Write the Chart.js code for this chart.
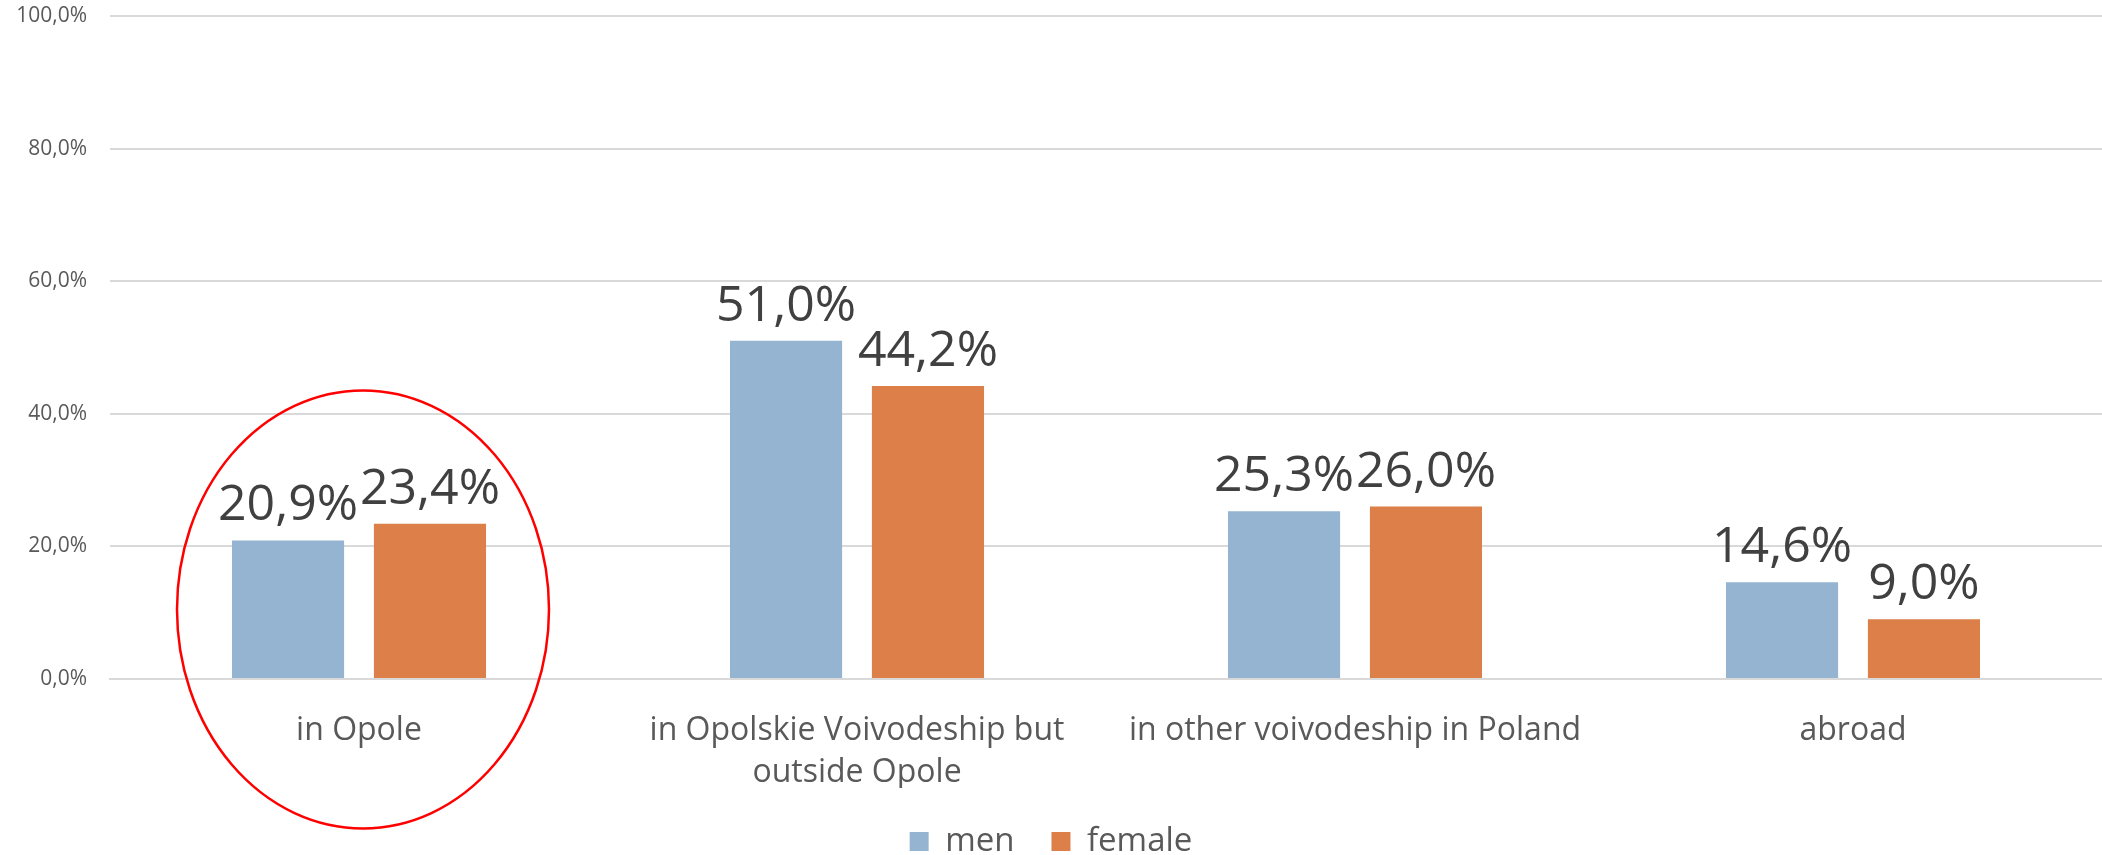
<!DOCTYPE html>
<html>
<head>
<meta charset="utf-8">
<script src="https://cdn.jsdelivr.net/npm/chart.js"></script>
<style>
  body { margin: 0; background: #fff; }
  #wrap { width: 2102px; height: 855px; }
</style>
</head>
<body>
<div id="wrap"><canvas id="barChart"></canvas></div>
<script>
// data
var categories = ["in Opole", ["in Opolskie Voivodeship but", "outside Opole"], "in other voivodeship in Poland", "abroad"];
var men = [20.9, 51.0, 25.3, 14.6];
var female = [23.4, 44.2, 26.0, 9.0];
var seriesNames = ["men", "female"];
var yTicks = [0, 20, 40, 60, 80, 100];

function pct(v) {
  return v.toFixed(1).replace('.', ',') + '%';
}

// value labels above bars
var valueLabels = {
  id: 'valueLabels',
  afterDatasetsDraw: function(chart) {
    var ctx = chart.ctx;
    ctx.save();
    ctx.font = '50px "Open Sans"';
    ctx.fillStyle = '#404040';
    ctx.textAlign = 'center';
    ctx.textBaseline = 'alphabetic';
    chart.data.datasets.forEach(function(ds, i) {
      chart.getDatasetMeta(i).data.forEach(function(bar, j) {
        ctx.fillText(pct(ds.data[j]), bar.x, bar.y - 20);
      });
    });
    ctx.restore();
  }
};

// red ellipse round the first group
var circleFirst = {
  id: 'circleFirst',
  afterDraw: function(chart) {
    var ctx = chart.ctx;
    var x = chart.scales.x.getPixelForValue(0) + 4;
    var y = chart.scales.y.getPixelForValue(10.5);
    ctx.save();
    ctx.strokeStyle = '#ff0000';
    ctx.lineWidth = 2.5;
    ctx.beginPath();
    ctx.ellipse(x, y, 186, 219, 0, 0, Math.PI * 2);
    ctx.stroke();
    ctx.restore();
  }
};

var myChart = new Chart(document.getElementById('barChart'), {
  type: 'bar',
  data: {
    labels: categories,
    datasets: [
      { label: seriesNames[0], data: men, backgroundColor: '#95b4d2' },
      { label: seriesNames[1], data: female, backgroundColor: '#dc7f48' }
    ]
  },
  options: {
    responsive: true,
    maintainAspectRatio: false,
    animation: false,
    layout: { padding: { top: 16, right: 0, bottom: -13, left: 0 } },
    datasets: {
      bar: { categoryPercentage: 0.57, barPercentage: 0.79 }
    },
    scales: {
      x: {
        afterFit: function(scale) { scale.height = 109; },
        grid: { display: false },
        border: { display: true, color: '#d9d9d9', width: 2 },
        ticks: {
          color: '#595959',
          font: { family: '"Open Sans"', size: 32, lineHeight: 1.34 },
          padding: 22,
          maxRotation: 0,
          autoSkip: false
        }
      },
      y: {
        min: 0,
        max: 100,
        afterBuildTicks: function(scale) {
          scale.ticks = yTicks.map(function(v) { return { value: v }; });
        },
        afterFit: function(scale) {
          scale.width = 110;
          scale.paddingTop = 0;
        },
        grid: { color: '#d9d9d9', lineWidth: 2, drawTicks: false },
        border: { display: false },
        ticks: {
          color: '#595959',
          font: { family: '"Open Sans"', size: 21 },
          padding: 23,
          callback: function(v) { return pct(v); }
        }
      }
    },
    plugins: {
      legend: {
        position: 'bottom',
        labels: {
          color: '#595959',
          font: { family: '"Open Sans"', size: 33 },
          boxWidth: 19,
          boxHeight: 19,
          padding: 37
        }
      },
      tooltip: { enabled: false }
    }
  },
  plugins: [valueLabels, circleFirst]
});
</script>
</body>
</html>
